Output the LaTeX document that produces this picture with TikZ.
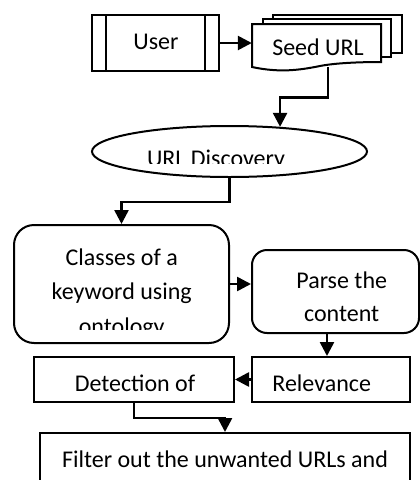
\documentclass[tikz,border=0pt]{standalone}
\usepackage{fontspec}
\setmainfont{Carlito}
\usetikzlibrary{arrows.meta,shapes.geometric,calc}
\begin{document}
\begin{tikzpicture}[x=1pt,y=-1pt,
  every node/.style={font=\fontsize{24}{34.5}\selectfont},
  shapebox/.style={draw, line width=2pt, inner sep=0pt, fill=white},
  txt/.style={inner sep=0pt, anchor=base, align=center},
  arr/.style={line width=2.6pt, -{Triangle[length=14pt,width=14pt]}},
  thinline/.style={line width=1.3pt},
  docline/.style={line width=2pt, fill=white},
]
\useasboundingbox (0,0) rectangle (420,480);
\clip (0,0) rectangle (420,480);

% User (predefined process)
\node[shapebox, minimum width=127pt, minimum height=56pt] (user) at (155.5,43) {};
\draw[thinline] ([xshift=15pt]user.north west) -- ([xshift=15pt]user.south west);
\draw[thinline] ([xshift=-15pt]user.north east) -- ([xshift=-15pt]user.south east);
\node[txt] (usert) at (156,49) {User};

% Seed URL (multi-document)
\draw[docline] (273,15) rectangle (402,53);
\draw[docline] (263,19) rectangle (391,57);
\draw[docline] (252,24) -- (381,24) -- (381,62)
  .. controls (360,62) and (335,63) .. (320,66)
  .. controls (300,70) and (280,73) .. (252,67) -- cycle;
\node[inner sep=0pt, minimum width=129pt, minimum height=43pt] (seed) at (316.5,45.5) {};
\node[txt] (seedt) at (318,55) {Seed URL};

% URL Discovery
\node[shapebox, ellipse, minimum width=275pt, minimum height=51pt] (disc) at (229.5,151.5) {};
\begin{scope}
  \clip (0,100) rectangle (420,163);
  \node[txt] (disct) at (216,166.5) {URL Discovery};
\end{scope}

% Classes
\node[shapebox, rounded corners=20pt, minimum width=215pt, minimum height=118pt] (cls) at (121.5,284) {};
\begin{scope}
  \clip (0,225) rectangle (240,329);
  \node[txt] (clst) at (121.7,334) {Classes of a\\keyword using\\ontology};
\end{scope}

% Parse
\node[shapebox, rounded corners=15pt, minimum width=167pt, minimum height=83pt] (parse) at (335.5,291.5) {};
\node[txt] (parset) at (341.7,321) {Parse the\\[-1.5pt]content};

% Relevance
\node[shapebox, minimum width=158pt, minimum height=45pt] (rel) at (331,379.5) {};
\node[txt] (relt) at (321.7,391) {Relevance};

% Detection
\node[shapebox, minimum width=200pt, minimum height=45pt] (det) at (134,379.5) {};
\node[txt] (dett) at (135,391) {Detection of};

% Filter
\node[shapebox, minimum width=370pt, minimum height=80pt] (filt) at (225,473) {};
\node[txt] (filtt) at (225,467.3) {Filter out the unwanted URLs and};

% Connectors
\draw[arr] (user.east) -- (user.east -| seed.west);
\draw[arr] ([xshift=11.5pt]seed.south) -- ++(0,30) -| (disc.26.7);
\draw[arr] (disc.south) -- ++(0,24) -| (cls.north);
\draw[arr] (cls.east) -- (cls.east -| parse.west);
\draw[arr] ([xshift=-8.5pt]parse.south) -- ([xshift=-8.5pt]parse.south |- rel.north);
\draw[arr] (rel.west) -- (det.east);
\draw[arr] (det.south) -- ++(0,15) -| (filt.north);
\end{tikzpicture}
\end{document}
